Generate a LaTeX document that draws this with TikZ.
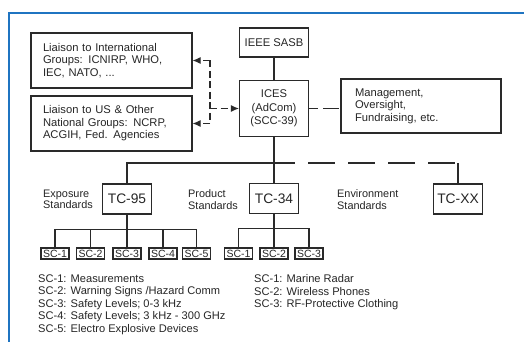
\documentclass[tikz,border=0pt]{standalone}
\usepackage{fontspec}
\setmainfont{Liberation Sans}
\usetikzlibrary{arrows.meta, positioning, calc}
\definecolor{frameblue}{HTML}{1F74C1}
\definecolor{inkgray}{HTML}{2A2A2A}
\definecolor{txtgray}{HTML}{262626}

\begin{document}
\begin{tikzpicture}[x=1pt, y=-1pt,
    every node/.style={font=\fontsize{11.2}{12.5}\selectfont, text=txtgray},
    box/.style={draw=inkgray, line width=1.1pt, minimum height=55pt, inner xsep=12pt, inner ysep=0pt, text width=137pt, align=left},
    cbox/.style={draw=inkgray, line width=1.1pt, align=center, inner sep=0pt, font=\fontsize{11.2}{13.5}\selectfont},
    tcbox/.style={draw=inkgray, line width=1.1pt, minimum width=49pt, minimum height=30pt, inner sep=0pt, font=\fontsize{13.8}{16}\selectfont},
    scbox/.style={draw=inkgray, line width=1.1pt, minimum width=28pt, minimum height=11pt, inner sep=0pt, font=\fontsize{10.5}{11}\selectfont},
    lbl/.style={align=left, inner sep=0pt, font=\fontsize{10.9}{11.5}\selectfont},
    listlbl/.style={align=left, inner sep=0pt, font=\fontsize{11.1}{12.5}\selectfont},
    ln/.style={draw=inkgray, line width=1.1pt},
    dashln/.style={ln, dash pattern=on 7pt off 3.5pt},
    dasharr/.style={dashln, -{Latex[length=8pt, width=7pt]}},
    longdash/.style={ln, dash pattern=on 27pt off 13pt, dash phase=6pt}
]
\useasboundingbox (0,0) rectangle (524,342);
\fill[white] (0,0) rectangle (524,342);
\draw[frameblue, line width=2pt] (9,342) -- (9,13) -- (524,13);

% top part
\node[box] (intl) at (111.5,60.5) {Liaison to International\\Groups: ICNIRP, WHO,\\IEC, NATO, ...};
\node[box] (natl) at (111.5,123.5) {Liaison to US \& Other\\National Groups: NCRP,\\ACGIH, Fed. Agencies};
\node[cbox, minimum width=69pt, minimum height=29pt] (sasb) at (274,42.5) {IEEE SASB};
\node[cbox, minimum width=69pt, minimum height=56pt] (ices) at (274,108.5) {ICES\\(AdCom)\\(SCC-39)};
\node[box, inner xsep=14pt, text width=132pt, minimum height=54pt] (mgmt) at (421,106) {Management,\\Oversight,\\Fundraising, etc.};

\coordinate (hub) at (210,108.5);
\draw[ln] (sasb) -- (ices);
\draw[dasharr] (hub) -- (ices.west);
\draw[dashln] (hub |- intl.east) -- (hub |- natl.east);
\draw[dasharr] (hub |- intl.east) -- (intl.east);
\draw[dasharr] (hub |- natl.east) -- (natl.east);
\draw[ln, dash pattern=on 16pt off 5pt, dash phase=7pt] (ices.east) -- (ices.east -| mgmt.west);

% technical committees
\node[tcbox] (tc95) at (127,199) {TC-95};
\node[tcbox] (tc34) at (274,198.5) {TC-34};
\node[tcbox] (tcxx) at (458,199) {TC-XX};
\node[lbl, anchor=west] (expo) at (43,199.5) {Exposure\\Standards};
\node[lbl, anchor=west] (prod) at (188,199.5) {Product\\Standards};
\node[lbl, anchor=west] (envi) at (337,199.5) {Environment\\Standards};

\coordinate (junc) at (274,163);
\draw[ln] (ices.south) -- (tc34.north);
\draw[ln] (tc95.north) |- (junc);
\draw[longdash] (junc) -- (junc -| tcxx.north);
\draw[ln] (junc -| tcxx.north) -- (tcxx.north);

% subcommittees
\node[scbox] (a1) at (55,253.5) {SC-1};
\node[scbox] (a2) at (90.5,253.5) {SC-2};
\node[scbox] (a3) at (127,253.5) {SC-3};
\node[scbox] (a4) at (163,253.5) {SC-4};
\node[scbox] (a5) at (196.5,253.5) {SC-5};
\draw[ln] (tc95.south) -- (a3.north);
\draw[ln] (a1.north) |- ($(a5.north)+(0,-18)$) -- (a5.north);
\draw[ln] (a2.north) -- ++(0,-18);
\draw[ln] (a4.north) -- ++(0,-18);

\node[scbox] (b1) at (238.5,253.5) {SC-1};
\node[scbox] (b2) at (274,253.5) {SC-2};
\node[scbox] (b3) at (309,253.5) {SC-3};
\draw[ln] (tc34.south) -- (b2.north);
\draw[ln] (b1.north) |- ($(b3.north)+(0,-19)$) -- (b3.north);

\node[listlbl, anchor=north west] (list95) at (38,274.5) {SC-1: Measurements\\SC-2: Warning Signs /Hazard Comm\\SC-3: Safety Levels; 0-3 kHz\\SC-4: Safety Levels; 3 kHz - 300 GHz\\SC-5: Electro Explosive Devices};
\node[listlbl, anchor=north west] (list34) at (254,274.5) {SC-1: Marine Radar\\SC-2: Wireless Phones\\SC-3: RF-Protective Clothing};
\end{tikzpicture}
\end{document}
